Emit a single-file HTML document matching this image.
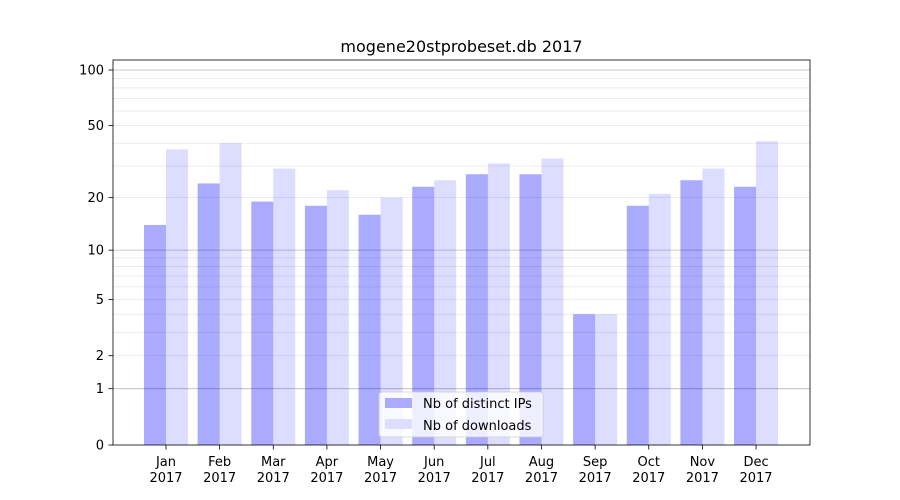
<!DOCTYPE html>
<html><head><meta charset="utf-8"><style>
html,body{margin:0;padding:0;background:#fff;}
svg{display:block;font-family:"DejaVu Sans","Liberation Sans",sans-serif;}
</style></head><body>
<svg id="s" width="900" height="500" xmlns="http://www.w3.org/2000/svg"></svg>
<script>
const s=document.getElementById('s');
const k=187.1, y0=445;
const Y=v=>y0-k*Math.log10(v+1);
let h='';
h+='<rect x="113" y="60" width="697" height="385" fill="#fff"/>';
const minors=[];
for(let d=2;d<=9;d++)minors.push(d);
for(let d=20;d<=90;d+=10)minors.push(d);
minors.push(200);
minors.forEach(v=>{const y=Y(v);if(y>60)h+=`<line x1="113" x2="810" y1="${y}" y2="${y}" stroke="#e6e6e6" stroke-width="0.8"/>`;});
[1,10,100].forEach(v=>{const y=Y(v);h+=`<line x1="113" x2="810" y1="${y}" y2="${y}" stroke="#b8b8b8" stroke-width="0.8"/>`;});
const blue=[14,24,19,18,16,23,27,27,4,18,25,23];
const light=[37,40,29,22,20,25,31,33,4,21,29,41];
const mon=['Jan','Feb','Mar','Apr','May','Jun','Jul','Aug','Sep','Oct','Nov','Dec'];
for(let i=0;i<12;i++){
 const c=166+i*53.64;
 let t=Y(blue[i]);h+=`<rect x="${c-22}" y="${t}" width="22" height="${y0-t}" fill="#0000ff" fill-opacity="0.333"/>`;
 t=Y(light[i]);h+=`<rect x="${c}" y="${t}" width="22" height="${y0-t}" fill="#0000ff" fill-opacity="0.133"/>`;
 h+=`<line x1="${c}" x2="${c}" y1="445" y2="449.5" stroke="#000" stroke-width="0.8"/>`;
 h+=`<text x="${c}" y="466" font-size="13" text-anchor="middle">${mon[i]}</text>`;
 h+=`<text x="${c}" y="482" font-size="13" text-anchor="middle">2017</text>`;
}
[0,1,2,5,10,20,50,100].forEach(v=>{const y=Y(v);
 h+=`<line x1="108.5" x2="113" y1="${y}" y2="${y}" stroke="#000" stroke-width="0.8"/>`;
 h+=`<text x="104" y="${y+4.5}" font-size="13" text-anchor="end">${v}</text>`;});
h+='<rect x="113" y="60" width="697" height="385" fill="none" stroke="#000" stroke-width="0.8"/>';
h+='<text x="461.5" y="52" font-size="16" text-anchor="middle">mogene20stprobeset.db 2017</text>';
h+='<rect x="379" y="392" width="164" height="45" rx="3" fill="#fff" fill-opacity="0.8" stroke="#ccc" stroke-width="0.8"/>';
h+='<rect x="385" y="398" width="27" height="10" fill="#aaaaff"/>';
h+='<text x="423" y="408" font-size="13">Nb of distinct IPs</text>';
h+='<rect x="385" y="419" width="27" height="10" fill="#ddddff"/>';
h+='<text x="423" y="430" font-size="13">Nb of downloads</text>';
s.innerHTML=h;
</script>
</body></html>
